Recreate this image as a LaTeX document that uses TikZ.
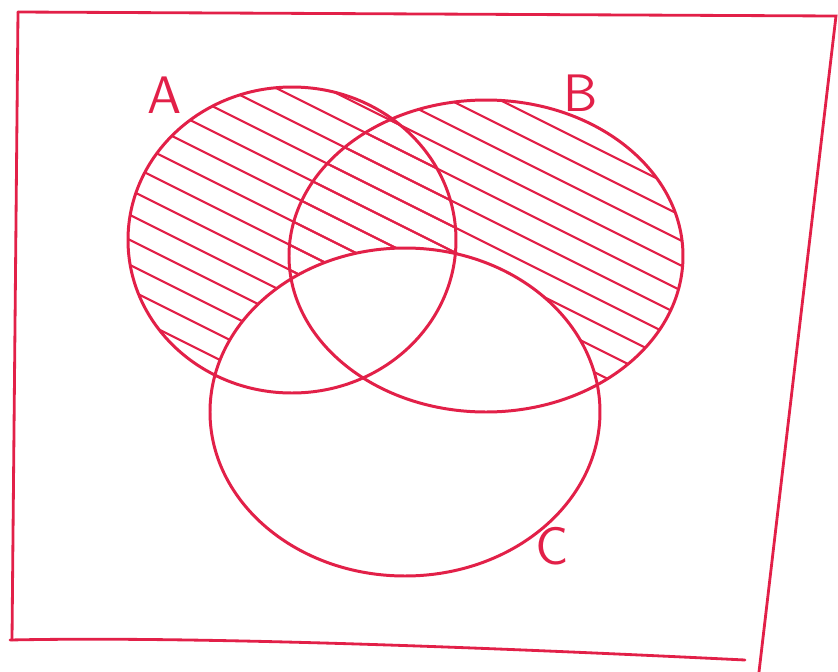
\documentclass[tikz,border=0pt]{standalone}
\usepackage{tikz}
\usetikzlibrary{positioning}
\definecolor{pen}{RGB}{226,32,72}
\tikzset{
  outline/.style={draw=pen,line width=0.85pt},
  hatch/.style={draw=pen,line width=0.6pt},
  frame/.style={draw=pen,line width=0.8pt,line cap=round},
  setname/.style={text=pen,font=\sffamily\fontsize{15}{15}\selectfont,inner sep=0pt},
}

\begin{document}
\begin{tikzpicture}[x=0.01cm,y=-0.01cm]
  \useasboundingbox (0,0) rectangle (838,672);
  % hatching in A and B
  \begin{scope}
    \clip (292,240) ellipse [x radius=164, y radius=153];
    \foreach \k in {-22,...,14}
      \draw[hatch] (100,\k*25+50) -- ++(600,300);
  \end{scope}
  \begin{scope}
    \clip (486,256) ellipse [x radius=197, y radius=156];
    \foreach \k in {-22,...,14}
      \draw[hatch] (100,\k*25+50) -- ++(600,300);
  \end{scope}
  % C stays blank
  \fill[white] (405,412) ellipse [x radius=195, y radius=164];
  % the three sets
  \draw[outline] (292,240) ellipse [x radius=164, y radius=153];
  \draw[outline] (486,256) ellipse [x radius=197, y radius=156];
  \draw[outline] (405,412) ellipse [x radius=195, y radius=164];
  % frame
  \draw[frame] (18,12) -- (836,16) -- (759,672);
  \draw[frame] (18,12) -- (12,640);
  \draw[frame] (10,640) .. controls (200,636) and (500,648) .. (745,660);
  % labels
  \node[setname] (labA) at (165,95) {A};
  \node[setname] (labB) at (581,93) {B};
  \node[setname] (labC) at (552,546) {C};
\end{tikzpicture}
\end{document}
